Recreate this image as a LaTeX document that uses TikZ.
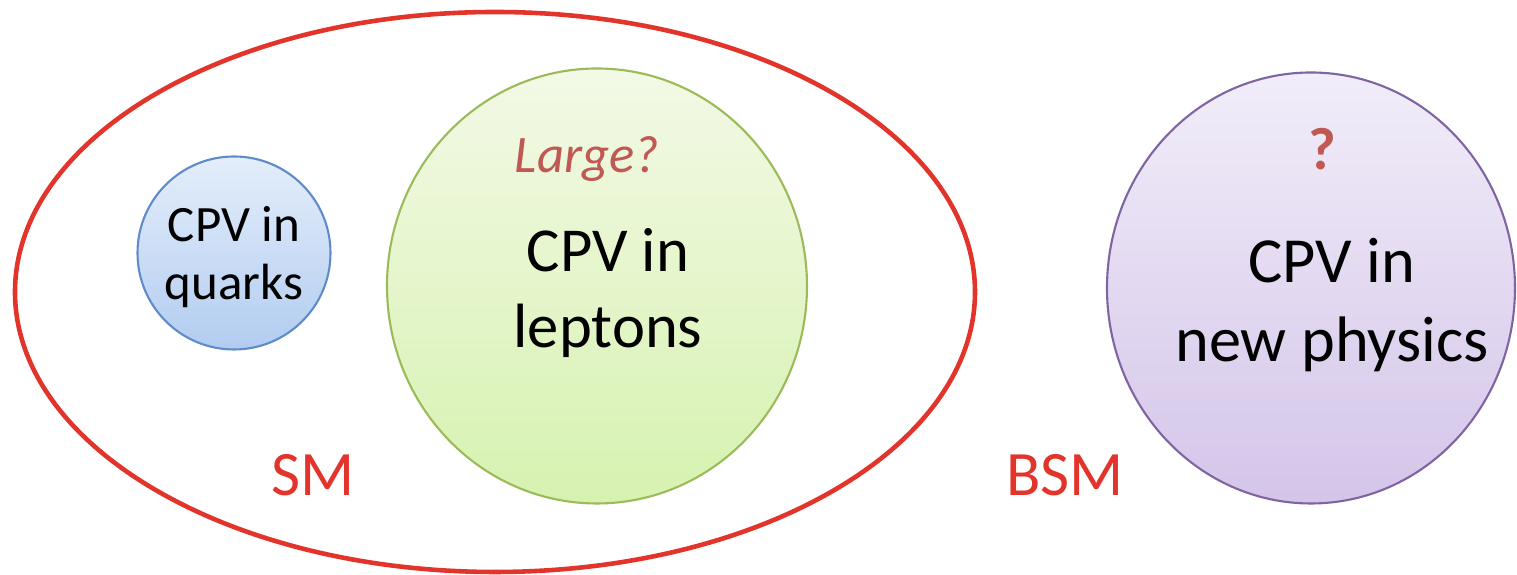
\documentclass[tikz,border=0pt]{standalone}
\usepackage{fontspec}
\usetikzlibrary{shapes.geometric}
\setmainfont{Carlito}
\definecolor{smred}{RGB}{226,52,42}
\definecolor{qred}{RGB}{192,88,84}
\definecolor{qborder}{RGB}{95,140,200}
\definecolor{lborder}{RGB}{155,187,89}
\definecolor{nborder}{RGB}{128,100,162}
\begin{document}
\begin{tikzpicture}[
    ball/.style={ellipse, draw, line width=0.6pt, inner sep=0pt},
    quarkball/.style={ball, draw=qborder, top color={rgb,255:red,228;green,238;blue,251}, bottom color={rgb,255:red,178;green,204;blue,240}, minimum width=1.93cm, minimum height=1.93cm},
    leptonball/.style={ball, draw=lborder, top color={rgb,255:red,243;green,249;blue,230}, bottom color={rgb,255:red,214;green,242;blue,176}, minimum width=4.20cm, minimum height=4.35cm},
    npball/.style={ball, draw=nborder, top color={rgb,255:red,241;green,237;blue,249}, bottom color={rgb,255:red,212;green,197;blue,233}, minimum width=4.08cm, minimum height=4.31cm},
    ballText/.style={align=center, text=black},
]
	\useasboundingbox (0,0) rectangle (15.17,5.75);

	\draw[smred, line width=1.3pt] (4.95,2.83) ellipse (4.80 and 2.80);

	\node[quarkball] (q) at (2.34,3.22) {};
	\node[leptonball] (l) at (5.97,2.89) {};
	\node[npball] (n) at (13.11,2.87) {};

	\node[ballText, font=\fontsize{14.5}{16.5}\selectfont] (qt) at (2.34,3.18) {CPV in\\quarks};
	\node[ballText, font=\fontsize{17.8}{21.5}\selectfont] (lt) at (6.08,2.82) {CPV in\\leptons};
	\node[ballText, font=\fontsize{18.3}{22.5}\selectfont] (nt) at (13.32,2.70) {CPV in\\new physics};

	\node[qred, font=\fontsize{15}{18}\itshape] (lq) at (5.87,4.16) {Large?};
	\node[qred, font=\fontsize{17}{20}\bfseries] (nq) at (13.22,4.26) {?};

	\node[smred, font=\fontsize{18}{21}\selectfont] (sm) at (3.13,1.00) {SM};
	\node[smred, font=\fontsize{18}{21}\selectfont] (bsm) at (10.65,1.00) {BSM};
\end{tikzpicture}
\end{document}
